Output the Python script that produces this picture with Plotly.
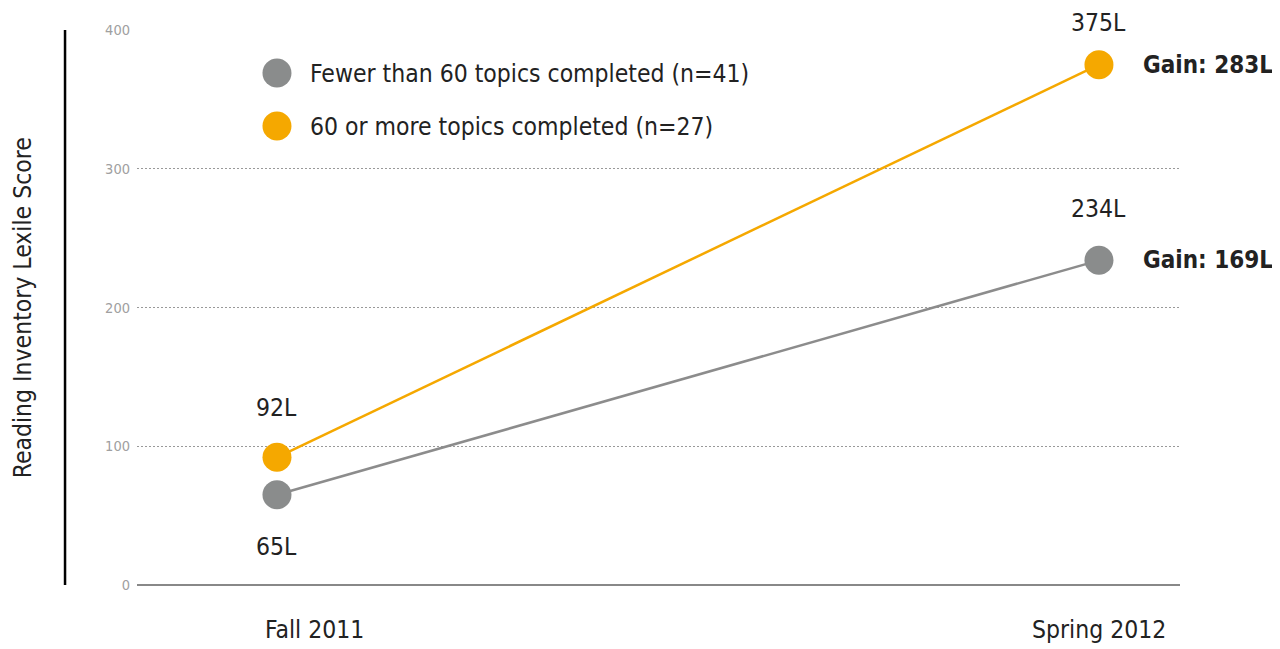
import plotly.graph_objects as go

periods = ["Fall 2011", "Spring 2012"]
fewer_vals = [65, 234]
more_vals = [92, 375]
fewer_labels = ["65L", "234L"]
more_labels = ["92L", "375L"]
gain_fewer = "Gain: 169L"
gain_more = "Gain: 283L"
series_names = ["Fewer than 60 topics completed (n=41)", "60 or more topics completed (n=27)"]
y_ticks = [0, 100, 200, 300, 400]
y_title = "Reading Inventory Lexile Score"

GRAY = "#8a8c8c"
GRAY_LINE = "#8c8c8c"
ORANGE = "#f5a800"
TEXT = "#222222"
FONT = "DejaVu Sans Condensed, Roboto, sans-serif"

xs = list(range(len(periods)))

fig = go.Figure()
fig.add_trace(go.Scatter(x=xs, y=fewer_vals, mode="lines+markers",
                         line=dict(color=GRAY_LINE, width=2.5),
                         marker=dict(color=GRAY, size=29), showlegend=False, cliponaxis=False))
fig.add_trace(go.Scatter(x=xs, y=more_vals, mode="lines+markers",
                         line=dict(color=ORANGE, width=2.5),
                         marker=dict(color=ORANGE, size=29), showlegend=False, cliponaxis=False))

ann = []
ann.append(dict(x=xs[0], y=more_vals[0], text=more_labels[0], yshift=50))
ann.append(dict(x=xs[0], y=fewer_vals[0], text=fewer_labels[0], yshift=-52))
ann.append(dict(x=xs[1], y=more_vals[1], text=more_labels[1], yshift=42, bgcolor="white",
                borderpad=0))
ann.append(dict(x=xs[1], y=fewer_vals[1], text=fewer_labels[1], yshift=52))
for a in ann:
    a.update(xref="x", yref="y", showarrow=False, font=dict(family=FONT, size=24.5, color=TEXT))

for val, txt in [(more_vals[1], gain_more), (fewer_vals[1], gain_fewer)]:
    ann.append(dict(x=xs[1], y=val, xref="x", yref="y", text="<b>" + txt + "</b>", showarrow=False,
                    xanchor="left", xshift=42, font=dict(family=FONT, size=24, color=TEXT)))

# category labels under the axis
for xv, lab, sh in zip(xs, periods, [38, 0]):
    ann.append(dict(x=xv, y=0, xref="x", yref="paper", text=lab, showarrow=False,
                    xanchor="center", yanchor="middle", xshift=sh, yshift=-44,
                    font=dict(family=FONT, size=24.5, color=TEXT)))

leg_x = 0.1342
leg_ys = [0.9225, 0.827]
colors = [GRAY, ORANGE]
shapes = []
for name, ly, c in zip(series_names, leg_ys, colors):
    shapes.append(dict(type="circle", xref="paper", yref="paper", xsizemode="pixel", ysizemode="pixel",
                       xanchor=leg_x, yanchor=ly, x0=-14.5, x1=14.5, y0=-14.5, y1=14.5,
                       fillcolor=c, line=dict(width=0)))
    ann.append(dict(x=0.164, y=ly, xref="paper", yref="paper", text=name, showarrow=False,
                    xanchor="left", yanchor="middle", font=dict(family=FONT, size=24.5, color=TEXT)))

shapes.append(dict(type="line", xref="paper", yref="paper", x0=-0.069, x1=-0.069, y0=0, y1=1,
                   line=dict(color="black", width=2.5)))

ann.append(dict(x=-0.1095, y=0.5, xref="paper", yref="paper", text=y_title, textangle=-90,
                xanchor="center", yanchor="middle",
                showarrow=False, font=dict(family=FONT, size=24.5, color=TEXT)))

fig.update_layout(
    width=1280, height=649,
    margin=dict(l=129, r=108, t=22, b=72),
    paper_bgcolor="white", plot_bgcolor="white",
    annotations=ann, shapes=shapes,
    xaxis=dict(range=[-0.1703, 1.0986], tickvals=xs, ticktext=["", ""], showgrid=False,
               zeroline=False, showline=False, ticks="", automargin=False),
    yaxis=dict(range=[0, 400], tickvals=y_ticks, showgrid=True, gridcolor="#999999",
               griddash="2px,2px", gridwidth=1, zeroline=True, zerolinecolor="#888888",
               zerolinewidth=1.5, showline=False, ticks="", ticklabelstandoff=6, automargin=False,
               tickfont=dict(family=FONT, size=14.5, color="#a0a0a0")),
)

fig.write_html("out.html")
